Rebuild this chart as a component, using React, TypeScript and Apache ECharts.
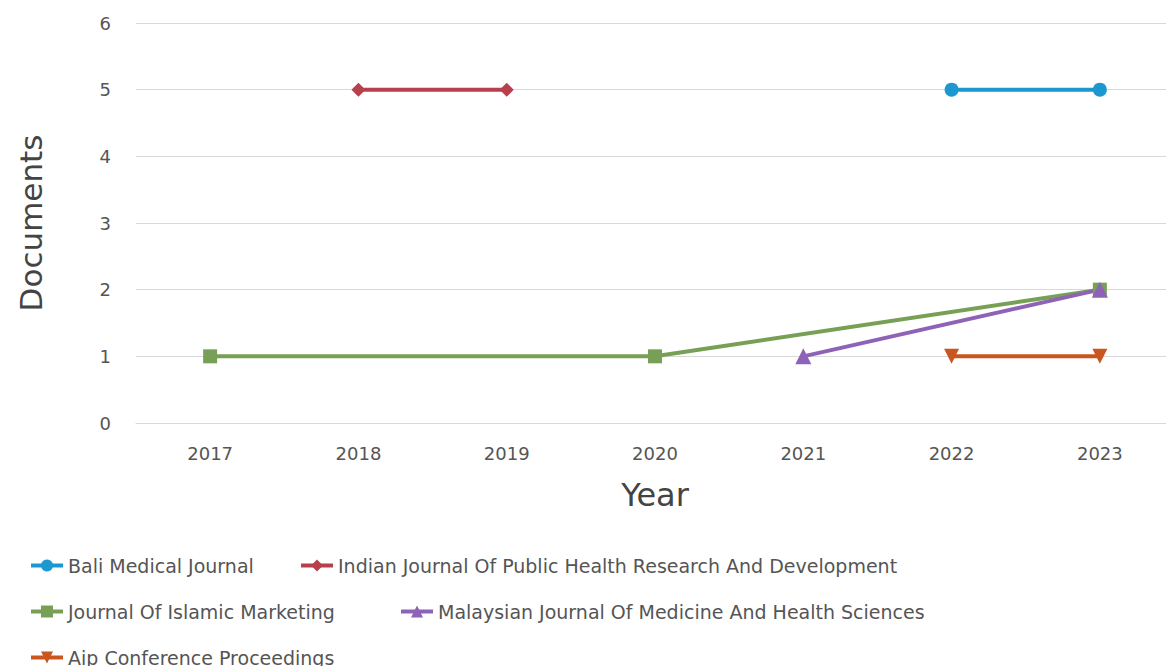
import React, { useEffect, useRef } from "react";
import * as echarts from "echarts";

const years = ["2017", "2018", "2019", "2020", "2021", "2022", "2023"];
const seriesNames = [
  "Bali Medical Journal",
  "Indian Journal Of Public Health Research And Development",
  "Journal Of Islamic Marketing",
  "Malaysian Journal Of Medicine And Health Sciences",
  "Aip Conference Proceedings",
];
const bali = [null, null, null, null, null, 5, 5];
const indian = [null, 5, 5, null, null, null, null];
const islamic = [1, null, null, 1, null, null, 2];
const malaysian = [null, null, null, null, 1, null, 2];
const aip = [null, null, null, null, null, 1, 1];
const yTicks = [0, 1, 2, 3, 4, 5, 6];

const colors = ["#1b98cf", "#b8404c", "#77a056", "#8e62b6", "#c9561e"];
const symbols = ["circle", "diamond", "rect", "triangle", "path://M0,0 L10,0 L5,10 Z"];
const symbolSizes = [14, 14, 14, 16, 15];
const values = [bali, indian, islamic, malaysian, aip];

const legendPos = [
  { left: 24, top: 551 },
  { left: 294, top: 551 },
  { left: 24, top: 597 },
  { left: 394, top: 597 },
  { left: 24, top: 643 },
];

export default function App() {
  const ref = useRef<HTMLDivElement>(null);
  useEffect(() => {
    if (!ref.current) return;
    const chart = echarts.init(ref.current, null, { renderer: "svg" });
    const font = "DejaVu Sans";
    chart.setOption({
      animation: false,
      textStyle: { fontFamily: font },
      grid: {
        left: 136,
        width: 1038,
        top: 23,
        bottom: 243,
        containLabel: false,
        outerBoundsMode: "none",
      },
      xAxis: {
        type: "category",
        data: years,
        boundaryGap: true,
        name: "Year",
        nameLocation: "middle",
        nameGap: 56,
        nameMoveOverlap: false,
        nameTextStyle: { fontSize: 32, color: "#444", fontFamily: font },
        axisLine: { show: true, lineStyle: { color: "#d9d9d9" } },
        axisTick: { show: false },
        axisLabel: { fontSize: 18, color: "#555", margin: 21, fontFamily: font },
      },
      yAxis: {
        type: "value",
        min: yTicks[0],
        max: yTicks[yTicks.length - 1],
        interval: 1,
        name: "Documents",
        nameLocation: "middle",
        nameGap: 90,
        nameMoveOverlap: false,
        nameTextStyle: { fontSize: 31, color: "#444", fontFamily: font },
        axisLine: { show: false },
        axisTick: { show: false },
        axisLabel: { fontSize: 18, color: "#555", margin: 25, fontFamily: font },
        splitLine: { lineStyle: { color: "#d9d9d9", width: 1 } },
      },
      legend: seriesNames.map((n, i) => ({
        data: [n],
        left: legendPos[i].left,
        top: legendPos[i].top,
        itemWidth: 32,
        itemHeight: 15,
        itemGap: 10,
        itemTextGap: 8,
        lineStyle: { width: 4 },
        textStyle: { fontSize: 19, color: "#555", fontFamily: font },
      })),
      series: seriesNames.map((n, i) => ({
        name: n,
        type: "line",
        data: values[i],
        connectNulls: true,
        symbol: symbols[i],
        symbolSize: symbolSizes[i],
        showSymbol: true,
        itemStyle: { color: colors[i] },
        lineStyle: { color: colors[i], width: 4 },
      })),
    });
    return () => chart.dispose();
  }, []);
  return (
    <div
      ref={ref}
      style={{ position: "absolute", left: 0, top: 0, width: 1166, height: 666, background: "#fff" }}
    />
  );
}
